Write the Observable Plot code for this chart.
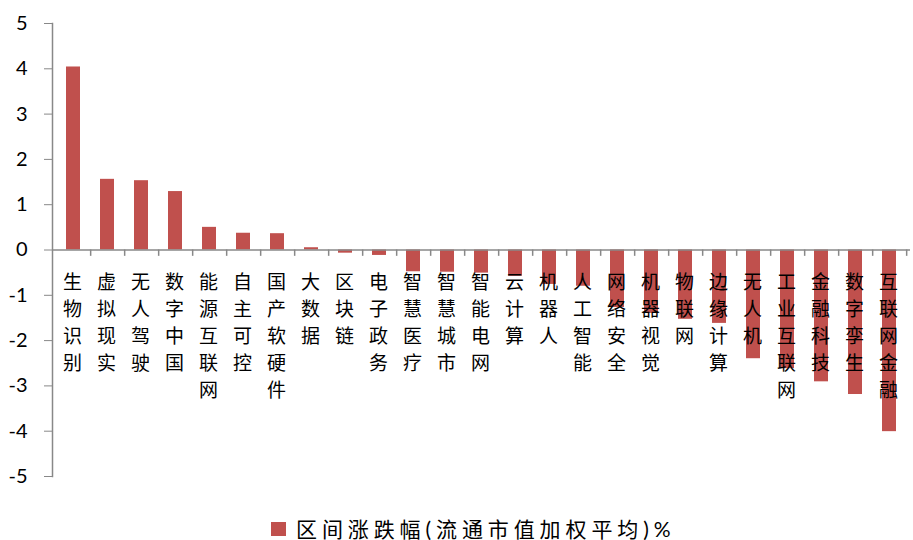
<!DOCTYPE html>
<html>
<head>
<meta charset="utf-8">
<script src="https://cdn.jsdelivr.net/npm/d3@7"></script>
<script src="https://cdn.jsdelivr.net/npm/@observablehq/plot@0.6"></script>
<style>
  html, body { margin: 0; padding: 0; background: #fff; overflow: hidden; }
  #wrap { position: relative; width: 913px; height: 540px; }
  #legend { position: absolute; left: 271px; top: 517px; height: 24px; line-height: 22px; display: flex; align-items: center;
    font-family: Lato, "Noto Sans CJK SC", sans-serif; font-size: 21px; letter-spacing: 4.9px; color: #000; white-space: nowrap; }
  #legend .sw { width: 15px; height: 14px; background: #C0504D; margin-right: 10px; }
</style>
</head>
<body>
<div id="wrap"></div>
<script>
const categories = ["生物识别","虚拟现实","无人驾驶","数字中国","能源互联网","自主可控","国产软硬件","大数据","区块链","电子政务","智慧医疗","智慧城市","智能电网","云计算","机器人","人工智能","网络安全","机器视觉","物联网","边缘计算","无人机","工业互联网","金融科技","数字孪生","互联网金融"];
const values = [4.04,1.56,1.53,1.29,0.50,0.37,0.36,0.05,-0.07,-0.12,-0.48,-0.49,-0.51,-0.58,-0.76,-0.80,-1.27,-1.40,-1.53,-1.62,-2.40,-2.62,-2.91,-3.19,-4.01];
const yTicks = [-5,-4,-3,-2,-1,0,1,2,3,4,5];
const seriesName = "区间涨跌幅(流通市值加权平均)%";

const data = categories.map((c, i) => ({category: c, value: values[i]}));

const W = 913, H = 505, ML = 52, MR = 3;
const step = (W - ML - MR) / categories.length;

const chart = Plot.plot({
  width: W, height: H,
  marginLeft: ML, marginRight: MR, marginTop: 23, marginBottom: 29,
  style: {background: "#fff", color: "#000"},
  x: {domain: categories, paddingInner: 0.6, paddingOuter: 0.3, axis: null},
  y: {domain: [-5, 5], axis: null},
  marks: [
    Plot.barY(data, {x: "category", y: "value", fill: "#C0504D"}),
    Plot.frame({anchor: "left", stroke: "#888", strokeWidth: 1.5}),
    Plot.axisY(yTicks, {anchor: "left", label: null, tickSize: 8, tickPadding: 17, fontSize: 20,
      fontFamily: "Lato, 'Open Sans', sans-serif", stroke: "#888", fill: "#000",
      tickFormat: d => String(d)}),
    Plot.ruleY([0], {stroke: "#888", strokeWidth: 1.5}),
    Plot.ruleX(categories, {x: d => d, dx: step / 2, y1: 0, y2: -0.14, stroke: "#888", strokeWidth: 1.5}),
    Plot.text(categories, {x: d => d, y: 0, text: d => d.split("").join("\n"),
      lineAnchor: "top", dy: 20, dx: -1, lineHeight: 1.42, fontSize: 19,
      fontFamily: "'Noto Sans CJK SC', sans-serif", fill: "#000"})
  ]
});

const wrap = document.getElementById("wrap");
wrap.appendChild(chart);
const legend = document.createElement("div");
legend.id = "legend";
legend.innerHTML = '<div class="sw"></div><span></span>';
legend.querySelector("span").textContent = seriesName;
wrap.appendChild(legend);
</script>
</body>
</html>
